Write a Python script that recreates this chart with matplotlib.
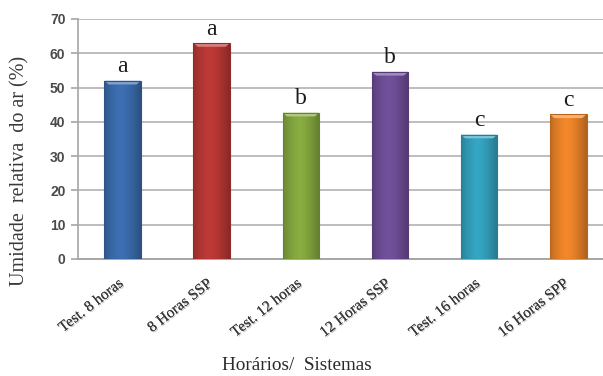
import numpy as np
import matplotlib
matplotlib.use('Agg')
import matplotlib.pyplot as plt
import matplotlib.colors as mcolors
import matplotlib.patheffects as pe
from matplotlib.patches import Polygon

# Relative air humidity per time / system
categories = ['Test. 8 horas', '8 Horas SSP', 'Test. 12 horas',
              '12 Horas SSP', 'Test. 16 horas', '16 Horas SPP']
humidity = [52.0, 63.0, 42.7, 54.6, 36.3, 42.2]
letters = ['a', 'a', 'b', 'b', 'c', 'c']
bar_colors = ['#3d70b3', '#be3a37', '#89ad41', '#72509c', '#35a6c4', '#f4882a']
yticks = [0, 10, 20, 30, 40, 50, 60, 70]

serif = ['Liberation Serif', 'DejaVu Serif']
text_shadow = [pe.withSimplePatchShadow(offset=(0.8, -0.8), shadow_rgbFace='#9a9a9a', alpha=0.6),
               pe.Normal()]

fig = plt.figure(figsize=(6.03, 3.76), dpi=100)
ax = fig.add_axes([78 / 603, 1 - 259 / 376, 1 - 78 / 603, (259 - 19) / 376])

positions = np.arange(len(categories))
bars = ax.bar(positions, humidity, width=0.41, color=bar_colors, zorder=3)

# Excel-style bevel: horizontal shading plus a lighter cap on each bar
shade = np.linspace(0, 1, 64)
shade = 1 - 0.35 * np.abs(shade - 0.45) ** 1.5 * 2
for bar, col in zip(bars, bar_colors):
    x0, w, h = bar.get_x(), bar.get_width(), bar.get_height()
    rgb = np.array(mcolors.to_rgb(col))
    img = np.clip(rgb[None, None, :] * shade[None, :, None], 0, 1)
    im = ax.imshow(img, extent=(x0, x0 + w, 0, h), aspect='auto', zorder=3.5,
                   interpolation='bilinear')
    im.set_clip_path(bar)
    cap_h = 1.1
    inset = w * 0.12
    light = np.clip(rgb + (1 - rgb) * 0.35, 0, 1)
    ax.add_patch(Polygon([(x0, h), (x0 + w, h), (x0 + w - inset, h - cap_h), (x0 + inset, h - cap_h)],
                         closed=True, facecolor=light, edgecolor='none', zorder=4))
    ax.add_patch(Polygon([(x0, 0), (x0, h), (x0 + w, h), (x0 + w, 0)], closed=True,
                         facecolor='none', edgecolor=rgb * 0.75, linewidth=0.8, zorder=4.5))

# Significance letters above bars
for x, val, let in zip(positions, humidity, letters):
    ax.annotate(let, (x, val), xytext=(0, 2.5), textcoords='offset points',
                ha='center', va='bottom', fontsize=17, family=serif, color='#1a1a1a', zorder=5)

ax.set_xlim(-0.5, 5.39)
ax.set_ylim(0, 70)
ax.set_yticks(yticks)
ax.set_yticklabels([str(t) for t in yticks], fontsize=10, fontweight='bold',
                   family=['Liberation Sans', 'DejaVu Sans'], color='#4a4a4a')
ax.yaxis.grid(True, color='#bdbdbd', linewidth=1.4, zorder=0)
ax.set_axisbelow(True)
ax.tick_params(axis='y', length=5, width=1.2, color='#a6a6a6', pad=4)
ax.tick_params(axis='x', length=0, pad=3)

ax.set_xticks(positions)
ax.set_xticklabels(categories, rotation=38, ha='right', rotation_mode='anchor',
                   fontsize=11, family=serif, color='#3a3a3a')
for lbl in ax.get_xticklabels():
    lbl.set_path_effects(text_shadow)
    lbl.set_transform(lbl.get_transform() + matplotlib.transforms.ScaledTranslation(-0.05, -0.14, fig.dpi_scale_trans))

for side in ['top', 'right']:
    ax.spines[side].set_visible(False)
ax.spines['left'].set_color('#a6a6a6')
ax.spines['left'].set_linewidth(1.2)
ax.spines['bottom'].set_color('#a6a6a6')
ax.spines['bottom'].set_linewidth(1.4)

fig.text(20 / 603, 1 - 171 / 376, 'Umidade  relativa  do ar (%)', rotation=90,
         ha='center', va='center', fontsize=14.5, family=serif, color='#3a3a3a')
fig.text(297 / 603, 1 - 366 / 376, 'Horários/  Sistemas', ha='center', va='center',
         fontsize=13.8, family=serif, color='#2a2a2a')

fig.savefig('out.png', dpi=100)
